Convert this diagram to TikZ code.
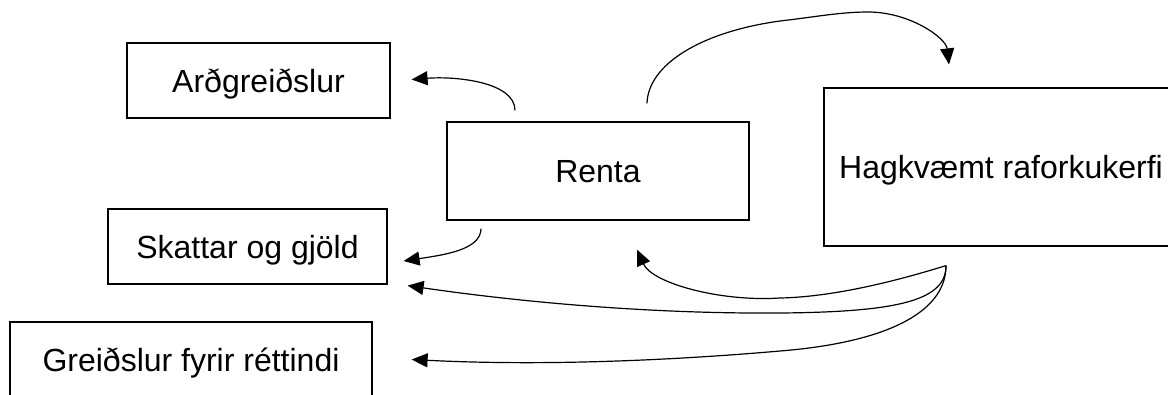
\documentclass[tikz,border=0pt]{standalone}
\usepackage{fontspec}
\setmainfont{Liberation Sans}
\usetikzlibrary{arrows.meta,calc}
\begin{document}
\begin{tikzpicture}[x=1pt,y=-1pt,
  box/.style={draw,line width=1.2pt,inner sep=0pt,align=center,
    font=\fontsize{32}{38}\selectfont,text height=23pt,text depth=0pt},
  flow/.style={line width=1.2pt,-{Triangle[length=16pt,width=14pt]}}]
\useasboundingbox (0,0) rectangle (1168,394);
\begin{scope}
\clip (0,0) rectangle (1168,394);

% boxes
\node[box,minimum width=263pt,minimum height=75pt] (arg) at (258.5,80.5) {Arðgreiðslur};
\node[box,minimum width=279pt,minimum height=75pt] (skatt) at (247.5,246.5) {Skattar og gjöld};
\node[box,minimum width=362pt,minimum height=75pt] (greid) at (191,359.5) {Greiðslur fyrir réttindi};
\node[box,minimum width=302pt,minimum height=98pt] (renta) at (598,171) {Renta};
\node[box,minimum width=354pt,minimum height=158pt] (hagk) at (1001,167) {Hagkvæmt raforkukerfi};

% free ends of the connectors
\coordinate (a1) at ($(renta.north)+(-83,-11)$);
\coordinate (a1e) at ($(arg.east)+(21,-1)$);
\coordinate (b1) at ($(renta.south)+(-117,8)$);
\coordinate (b1e) at ($(skatt.east)+(16,14.5)$);
\coordinate (c1) at ($(renta.north)+(49,-18)$);
\coordinate (c1e) at ($(hagk.north)+(-52,-23)$);
\coordinate (d0) at ($(hagk.south)+(-55,19)$);
\coordinate (da) at ($(renta.south)+(39,29)$);
\coordinate (db) at ($(skatt.south east)+(20,1)$);
\coordinate (dc) at ($(greid.east)+(39,0)$);

% Renta -> Arðgreiðslur, Skattar og gjöld
\draw[flow] (a1) .. controls (515,82) and (456,76) .. (a1e);
\draw[flow] (b1) .. controls (481,250) and (443,255) .. (b1e);

% Renta -> Hagkvæmt raforkukerfi
\draw[flow] (c1) .. controls (648,65) and (700,32) .. (780,21)
  .. controls (815,17) and (840,12) .. (868,12)
  .. controls (910,12) and (946,38) .. (c1e);

% Hagkvæmt raforkukerfi -> Renta and the payments
\draw[flow] (d0) .. controls (890,283) and (830,297) .. (780,298)
  .. controls (720,302) and (652,283) .. (da);
\draw[flow] (d0) .. controls (946,300) and (900,312) .. (780,313)
  .. controls (650,314) and (520,302) .. (db);
\draw[flow] (d0) .. controls (946,315) and (880,343) .. (780,351)
  .. controls (700,358) and (560,367) .. (dc);
\end{scope}
\end{tikzpicture}
\end{document}
